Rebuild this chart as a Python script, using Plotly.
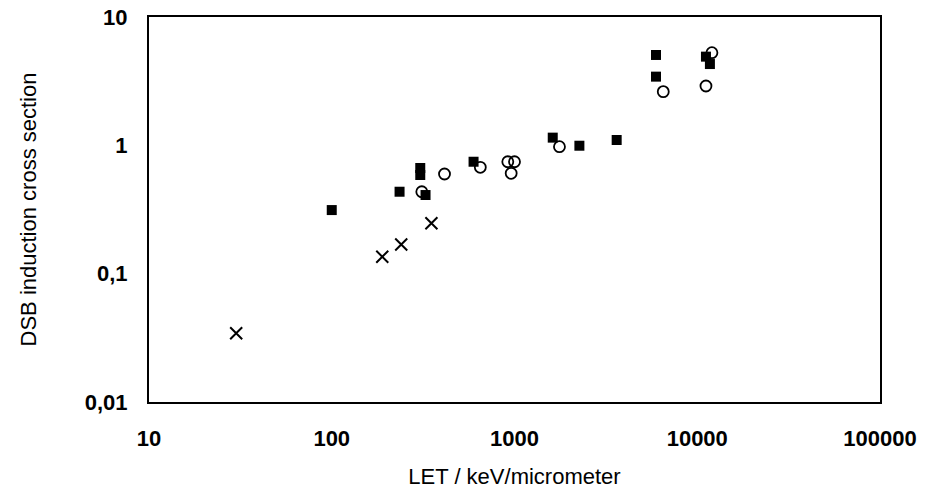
import plotly.graph_objects as go

# Filled squares
sq_let = [100, 235, 305, 305, 326, 597, 1619, 2265, 3623, 5945, 5945, 11160, 11730]
sq_dsb = [0.313, 0.435, 0.666, 0.587, 0.410, 0.745, 1.148, 0.993, 1.10, 5.06, 3.43, 4.91, 4.30]

# Open circles
ci_let = [311, 414, 650, 919, 1000, 959, 1762, 6516, 12030, 11160]
ci_dsb = [0.435, 0.598, 0.674, 0.745, 0.745, 0.605, 0.976, 2.62, 5.27, 2.90]

# Crosses
cr_let = [30, 189, 240, 351]
cr_dsb = [0.0343, 0.1355, 0.169, 0.247]

x_tickvals = [10, 100, 1000, 10000, 100000]
x_ticktext = ["10", "100", "1000", "10000", "100000"]
y_tickvals = [0.01, 0.1, 1, 10]
y_ticktext = ["0,01", "0,1", "1", "10"]

FONT = "Liberation Sans, Arial, sans-serif"

fig = go.Figure()
fig.add_trace(go.Scatter(x=sq_let, y=sq_dsb, mode="markers",
                         marker=dict(symbol="square", size=10, color="black",
                                     line=dict(width=0)), showlegend=False))
fig.add_trace(go.Scatter(x=ci_let, y=ci_dsb, mode="markers",
                         marker=dict(symbol="circle-open", size=11, color="black",
                                     line=dict(width=1.8)), showlegend=False))
fig.add_trace(go.Scatter(x=cr_let, y=cr_dsb, mode="markers",
                         marker=dict(symbol="x-thin-open", size=12, color="black",
                                     line=dict(width=2, color="black")), showlegend=False))

fig.update_layout(
    width=927, height=493,
    margin=dict(l=149, r=47, t=17, b=91),
    paper_bgcolor="white", plot_bgcolor="white",
    font=dict(family=FONT, color="black", size=22),
    xaxis=dict(type="log", range=[1, 5], tickvals=x_tickvals, ticktext=x_ticktext,
               automargin=False,
               showgrid=False, zeroline=False, showline=True, linecolor="black",
               linewidth=2, mirror=True, ticks="", ticklabelstandoff=16,
               tickfont=dict(size=22, family=FONT, weight="bold"),
               title=dict(text="LET / keV/micrometer", font=dict(size=22, family=FONT),
                          standoff=18)),
    yaxis=dict(type="log", range=[-2, 1], tickvals=y_tickvals, ticktext=y_ticktext,
               automargin=False,
               showgrid=False, zeroline=False, showline=True, linecolor="black",
               linewidth=2, mirror=True, ticks="", ticklabelstandoff=15,
               tickfont=dict(size=22, family=FONT, weight="bold"),
               title=dict(text="DSB induction cross section", font=dict(size=22, family=FONT),
                          standoff=42)),
)

fig.write_html("out.html", config={"displayModeBar": False},
               post_script="document.body.style.margin='0';document.body.style.padding='0';")
